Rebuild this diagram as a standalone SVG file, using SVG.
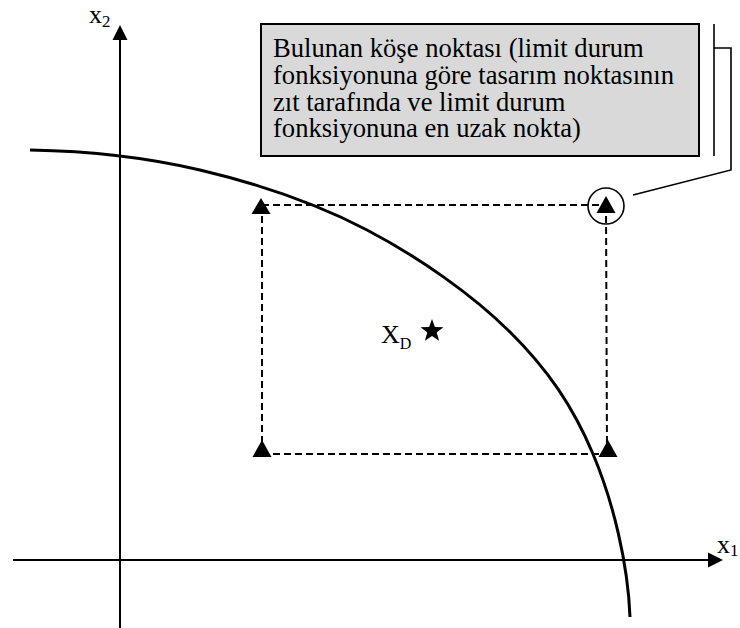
<svg xmlns="http://www.w3.org/2000/svg" width="740" height="628" viewBox="0 0 740 628">
<defs>
<style>
.t{font-family:"Liberation Serif","Times New Roman",serif;fill:#000}
.ax{stroke:#000;stroke-width:2;fill:none}
.dash{stroke:#000;stroke-width:2;fill:none;stroke-dasharray:7 4}
.tri{fill:#000}
.thin{stroke:#000;stroke-width:1.6;fill:none}
</style>
</defs>
<rect width="740" height="628" fill="#fff"/>
<g id="axes">
<line class="ax" x1="120" y1="38" x2="120" y2="628"/>
<polygon class="tri" points="120,25 127.5,40 112.5,40"/>
<line class="ax" x1="13" y1="560" x2="710" y2="560"/>
<polygon class="tri" points="723,560 708,552.5 708,567.5"/>
<text class="t" x="89" y="23" font-size="26">x<tspan font-size="17" dy="4">2</tspan></text>
<text class="t" x="717" y="553" font-size="26">x<tspan font-size="17" dy="3">1</tspan></text>
</g>
<g id="limit-curve">
<path d="M30,150 C87,151 143.8,156.7 200,170 C256.2,183.3 315.3,203 367,230 C418.7,257 472.3,294.7 510,332 C547.7,369.3 573,406.5 593,454 C613,501.5 628,563 630,617" stroke="#000" stroke-width="3" fill="none"/>
</g>
<g id="connectors">
<line class="dash" x1="262" y1="205" x2="606" y2="205"/>
<line class="dash" x1="262" y1="454" x2="607" y2="454"/>
<line class="dash" x1="262" y1="205" x2="262" y2="454"/>
<line class="dash" x1="606" y1="205" x2="607" y2="454"/>
<polyline class="thin" points="633,195 731,170 731,48 714,48"/>
<line class="thin" x1="714" y1="24" x2="714" y2="156"/>
</g>
<g id="corner-tl"><polygon class="tri" points="261,198 270.5,214 251.5,214"/></g>
<g id="corner-tr"><polygon class="tri" points="606,196 615.5,213 596.5,213"/><circle class="thin" cx="606" cy="206" r="18"/></g>
<g id="corner-bl"><polygon class="tri" points="262,440 271.5,457 252.5,457"/></g>
<g id="corner-br"><polygon class="tri" points="608,440 617.5,457 598.5,457"/></g>
<g id="design-point">
<text class="t" x="381" y="343" font-size="26">X<tspan font-size="16" dy="6">D</tspan></text>
<polygon class="tri" points="432,319 434.9,327 443.4,327.3 436.7,332.5 439.1,340.7 432,335.9 424.9,340.7 427.3,332.5 420.6,327.3 429.1,327"/>
</g>
<g id="note">
<rect x="261" y="24" width="438" height="132" fill="#d9d9d9" stroke="#000" stroke-width="2"/>
<text class="t" font-size="26.6">
<tspan x="273" y="57">Bulunan köşe noktası (limit durum</tspan>
<tspan x="273" y="84">fonksiyonuna göre tasarım noktasının</tspan>
<tspan x="273" y="110.5">zıt tarafında ve limit durum</tspan>
<tspan x="273" y="137">fonksiyonuna en uzak nokta)</tspan>
</text>
</g>
</svg>
